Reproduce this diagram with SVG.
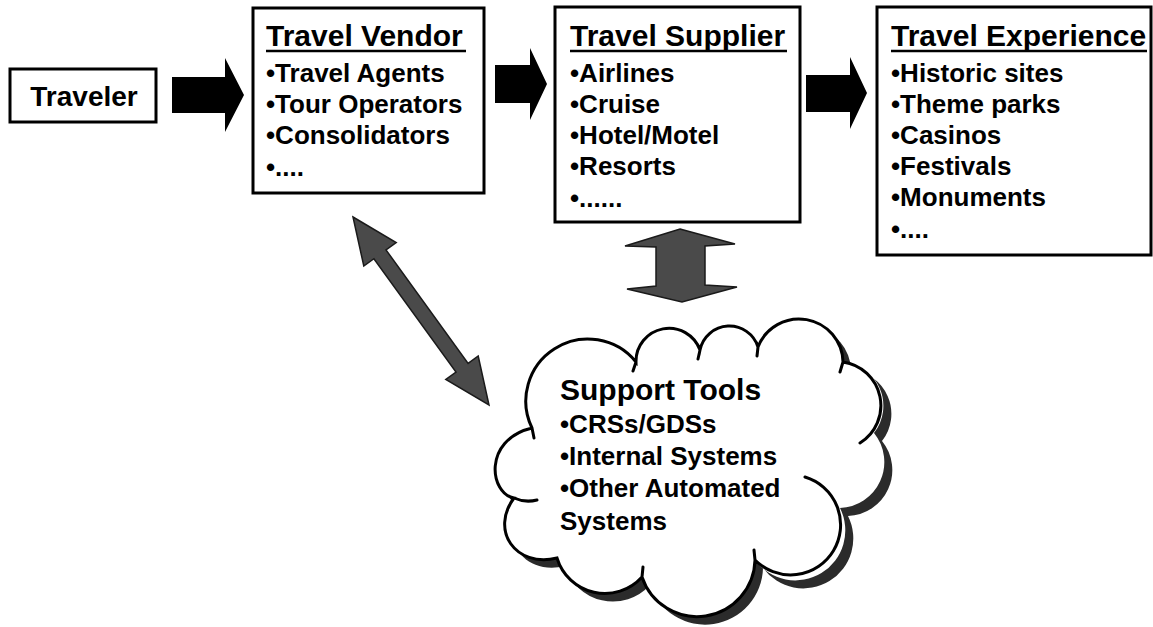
<svg xmlns="http://www.w3.org/2000/svg" width="1153" height="627" viewBox="0 0 1153 627">
<style>
.box{fill:#fff;stroke:#000;stroke-width:3}
.t{font-family:"Liberation Sans",Arial,Helvetica,sans-serif;font-weight:bold;fill:#000}
.h{font-size:30px}
.i{font-size:26px}
.ul{stroke:#000;stroke-width:2.5}
.blk{fill:#000}
.gry{fill:#4a4a4a;stroke:#1a1a1a;stroke-width:1.5;stroke-linejoin:miter}
.cl{fill:none;stroke:#000;stroke-width:3;stroke-linecap:round}
</style>
<defs>
<path id="cloudshape" d="M532,428 A62,62 0 0 1 636,362 A33,33 0 0 1 700,350 A30,30 0 0 1 758,347 A44,44 0 0 1 843,362 A44,44 0 0 1 874,433 A46,46 0 0 1 840,508 A50,50 0 0 1 755,560 A58,58 0 0 1 642,577 A50,50 0 0 1 557,558 C515,568 490,530 514,498 C490,494 482,440 532,428 Z"/>
</defs>
<rect width="1153" height="627" fill="#fff"/>

<g id="connectors">
  <polygon class="blk" points="172,77 225,77 225,58 244,95 225,132 225,113 172,113"/>
  <polygon class="blk" points="495,65 530,65 530,48 547,84 530,120 530,103 495,103"/>
  <polygon class="blk" points="806,75 850,75 850,57 867,93 850,129 850,112 806,112"/>
  <polygon class="gry" points="680,229 735,244 705,246 705,285 737,287 682,302 627,289 656,286 656,247 625,246"/>
  <polygon class="gry" points="353,217 396.2,242.5 386,249.9 468.1,363.4 478.2,356 489,405 445.8,379.5 456,372.1 373.9,258.7 363.8,266"/>
</g>

<g id="traveler">
  <rect class="box" x="10" y="69" width="146" height="53"/>
  <text class="t" x="84" y="106" font-size="28" text-anchor="middle">Traveler</text>
</g>

<g id="travel-vendor">
  <rect class="box" x="253" y="8" width="231" height="185"/>
  <text class="t h" x="266" y="46">Travel Vendor</text>
  <line class="ul" x1="266" y1="51" x2="466" y2="51"/>
  <text class="t i" x="266" y="82">•Travel Agents</text>
  <text class="t i" x="266" y="113">•Tour Operators</text>
  <text class="t i" x="266" y="144">•Consolidators</text>
  <text class="t i" x="266" y="176">•....</text>
</g>

<g id="travel-supplier">
  <rect class="box" x="555" y="7" width="245" height="215"/>
  <text class="t h" x="570" y="46">Travel Supplier</text>
  <line class="ul" x1="570" y1="51" x2="787" y2="51"/>
  <text class="t i" x="570" y="82">•Airlines</text>
  <text class="t i" x="570" y="113">•Cruise</text>
  <text class="t i" x="570" y="144">•Hotel/Motel</text>
  <text class="t i" x="570" y="175">•Resorts</text>
  <text class="t i" x="570" y="207">•......</text>
</g>

<g id="travel-experience">
  <rect class="box" x="877" y="7" width="274" height="248"/>
  <text class="t h" x="891" y="46">Travel Experience</text>
  <line class="ul" x1="891" y1="51" x2="1147" y2="51"/>
  <text class="t i" x="891" y="82">•Historic sites</text>
  <text class="t i" x="891" y="113">•Theme parks</text>
  <text class="t i" x="891" y="144">•Casinos</text>
  <text class="t i" x="891" y="175">•Festivals</text>
  <text class="t i" x="891" y="206">•Monuments</text>
  <text class="t i" x="891" y="238">•....</text>
</g>

<g id="support-tools">
  <use href="#cloudshape" transform="translate(8,8)" fill="#2b2b2b"/>
  <use href="#cloudshape" fill="#fff"/>
  <path class="cl" d="M532,428 A62,62 0 0 1 636,362 A33,33 0 0 1 700,350 A30,30 0 0 1 758,347 A44,44 0 0 1 843,362 A44,44 0 0 1 860,443 M805,477 A50,50 0 1 1 755,560 A58,58 0 0 1 642,577 A50,50 0 0 1 557,558 C515,568 490,530 514,498 C490,494 482,440 532,428 M514,498 Q525,503 537,500 M532,428 l2,10 M636,362 l-3,9 M700,350 l-2,9 M758,347 l-1,9 M843,362 l-3,10 M642,577 l1,-10 M755,560 l-1,-10"/>
  <text class="t" x="560" y="400" font-size="30">Support Tools</text>
  <text class="t i" x="560" y="433">•CRSs/GDSs</text>
  <text class="t i" x="560" y="465">•Internal Systems</text>
  <text class="t i" x="560" y="497">•Other Automated</text>
  <text class="t i" x="560" y="530">Systems</text>
</g>
</svg>
